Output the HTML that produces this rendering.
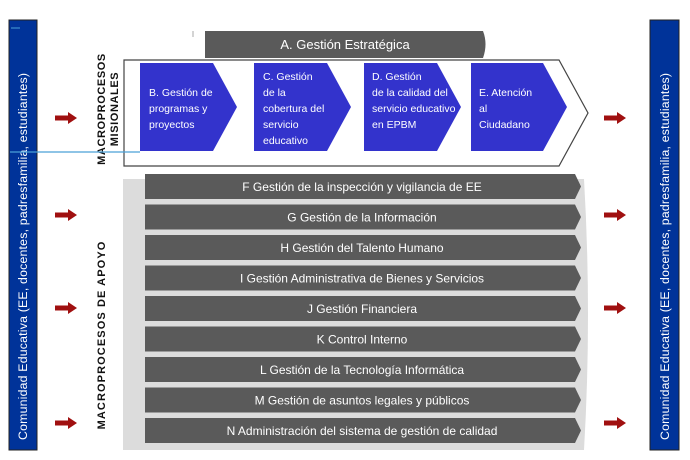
<!DOCTYPE html>
<html><head><meta charset="utf-8"><style>
html,body{margin:0;padding:0;background:#fff;}
svg{display:block;}
text{font-family:"Liberation Sans",sans-serif;}
</style></head><body>
<svg width="690" height="460" viewBox="0 0 690 460" xmlns="http://www.w3.org/2000/svg">
<defs>
<g id="arr"><polygon points="0,-2.5 13,-2.5 13,-6 22,0 13,6 13,2.5 0,2.5" fill="#a01010"/></g>
</defs>
<rect x="9" y="20" width="28" height="430" fill="#003399" stroke="#222" stroke-width="1"/>
<rect x="650" y="20" width="29" height="430" fill="#003399" stroke="#222" stroke-width="1"/>
<line x1="11" y1="28" x2="20" y2="28" stroke="#4aa0d8" stroke-width="1"/>
<text transform="translate(27,440) rotate(-90)" fill="#fff" font-size="12.3" letter-spacing="0.2">Comunidad Educativa (EE, docentes, padresfamilia, estudiantes)</text>
<text transform="translate(669,440) rotate(-90)" fill="#fff" font-size="12.3" letter-spacing="0.2">Comunidad Educativa (EE, docentes, padresfamilia, estudiantes)</text>
<use href="#arr" x="55" y="118"/><use href="#arr" x="55" y="215"/><use href="#arr" x="55" y="308"/><use href="#arr" x="55" y="423"/>
<use href="#arr" x="604" y="118"/><use href="#arr" x="604" y="215"/><use href="#arr" x="604" y="308"/><use href="#arr" x="604" y="423"/>
<text transform="translate(105,109) rotate(-90)" text-anchor="middle" font-size="11" font-weight="bold" letter-spacing="0.6" fill="#111">MACROPROCESOS</text>
<text transform="translate(118,109) rotate(-90)" text-anchor="middle" font-size="11" font-weight="bold" letter-spacing="0.6" fill="#111">MISIONALES</text>
<text transform="translate(105,335) rotate(-90)" text-anchor="middle" font-size="11" font-weight="bold" letter-spacing="1.1" fill="#111">MACROPROCESOS DE APOYO</text>
<line x1="193" y1="31" x2="193" y2="37" stroke="#aaa"/>
<path d="M205,31 H483 Q488,44 483,58 H205 Z" fill="#5a5a5a"/>
<text x="345" y="49" text-anchor="middle" fill="#fff" font-size="13">A. Gestión Estratégica</text>
<polygon points="124,60 559,60 588,113 559,166 124,166" fill="#fff" stroke="#444" stroke-width="1.2"/>
<polygon points="140,63 213,63 237,107 213,151 140,151" fill="#3333cc"/>
<polygon points="254,63 327,63 351,107 327,151 254,151" fill="#3333cc"/>
<polygon points="364,63 437,63 461,107 437,151 364,151" fill="#3333cc"/>
<polygon points="471,63 543,63 567,107 543,151 471,151" fill="#3333cc"/>
<g fill="#fff" font-size="10.5">
<text x="149" y="96">B. Gestión de</text><text x="149" y="112">programas  y</text><text x="149" y="128">proyectos</text>
<text x="263" y="80">C. Gestión</text><text x="263" y="96">de la</text><text x="263" y="112">cobertura  del</text><text x="263" y="128">servicio</text><text x="263" y="144">educativo</text>
<text x="372" y="80">D. Gestión</text><text x="372" y="96">de la calidad del</text><text x="372" y="112">servicio educativo</text><text x="372" y="128">en EPBM</text>
<text x="479" y="96">E. Atención</text><text x="479" y="112">al</text><text x="479" y="128">Ciudadano</text>
</g>
<line x1="10" y1="152" x2="140" y2="152" stroke="#4aa0d8" stroke-width="1.2"/>
<path d="M123,179 H584 Q592,315 584,450 H123 Z" fill="#dcdcdc"/>
<g fill="#5a5a5a">
<path d="M145,174 H575 L581,186.5 L575,199 H145 Z"/>
<path d="M145,204.5 H575 L581,217 L575,229.5 H145 Z"/>
<path d="M145,235 H575 L581,247.5 L575,260 H145 Z"/>
<path d="M145,265.5 H575 L581,278 L575,290.5 H145 Z"/>
<path d="M145,296 H575 L581,308.5 L575,321 H145 Z"/>
<path d="M145,326.5 H575 L581,339 L575,351.5 H145 Z"/>
<path d="M145,357 H575 L581,369.5 L575,382 H145 Z"/>
<path d="M145,387.5 H575 L581,400 L575,412.5 H145 Z"/>
<path d="M145,418 H575 L581,430.5 L575,443 H145 Z"/>
</g>
<g fill="#fff" font-size="12" text-anchor="middle">
<text x="362" y="191">F Gestión de la inspección y vigilancia de EE</text>
<text x="362" y="221.5">G Gestión de la Información</text>
<text x="362" y="252">H Gestión del Talento  Humano</text>
<text x="362" y="282.5">I Gestión Administrativa  de Bienes y Servicios</text>
<text x="362" y="313">J Gestión Financiera</text>
<text x="362" y="343.5">K Control Interno</text>
<text x="362" y="374">L Gestión de la Tecnología  Informática</text>
<text x="362" y="404.5">M Gestión de asuntos  legales y públicos</text>
<text x="362" y="435">N Administración  del sistema de gestión de calidad</text>
</g>
</svg>
</body></html>
